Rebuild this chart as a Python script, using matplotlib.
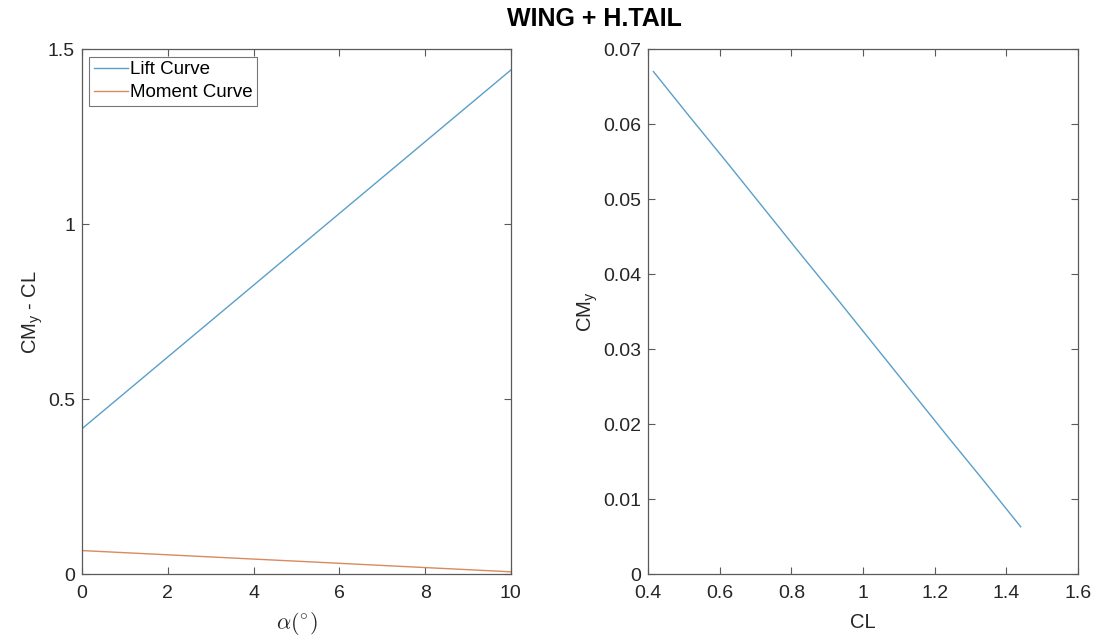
import matplotlib
matplotlib.use("Agg")
import matplotlib.pyplot as plt

plt.rcParams['font.family'] = ['Liberation Sans', 'DejaVu Sans']
plt.rcParams['mathtext.fontset'] = 'custom'
plt.rcParams['mathtext.rm'] = 'Liberation Sans'
plt.rcParams['mathtext.it'] = 'Liberation Sans:italic'

# Data
alpha = [0, 1, 2, 3, 4, 5, 6, 7, 8, 9, 10]
CL = [0.415, 0.5175, 0.62, 0.7225, 0.825, 0.9275, 1.03, 1.1325, 1.235, 1.3375, 1.44]
CMy = [0.067, 0.0609, 0.0549, 0.0488, 0.0427, 0.0367, 0.0306, 0.0245, 0.0184, 0.0124, 0.0063]

left_yticks = [0, 0.5, 1, 1.5]
left_xticks = [0, 2, 4, 6, 8, 10]
right_yticks = [0, 0.01, 0.02, 0.03, 0.04, 0.05, 0.06, 0.07]
right_xticks = [0.4, 0.6, 0.8, 1.0, 1.2, 1.4, 1.6]

c_lift = '#5a9fc8'
c_mom = '#d98a5e'
spine_c = '#5a5a5a'
text_c = '#262626'

fig = plt.figure(figsize=(10.97, 6.39), dpi=100)
ax1 = fig.add_axes([0.0747, 0.1017, 0.391, 0.8216])
ax2 = fig.add_axes([0.5907, 0.1017, 0.392, 0.8216])

ax1.plot(alpha, CL, color=c_lift, lw=1.0, label='Lift Curve')
ax1.plot(alpha, CMy, color=c_mom, lw=1.0, label='Moment Curve')
ax1.set_xlim(0, 10)
ax1.set_ylim(0, 1.5)
ax1.set_xticks(left_xticks)
ax1.set_xticklabels([str(v) for v in left_xticks])
ax1.set_yticks(left_yticks)
ax1.set_yticklabels(['0', '0.5', '1', '1.5'])
ax1.set_xlabel(r'$\alpha(^{\circ})$', fontsize=16, color=text_c, math_fontfamily='cm',
               labelpad=6)
ax1.set_ylabel(r'CM$_\mathregular{y}$ - CL', fontsize=14.5, color=text_c, labelpad=2)
leg = ax1.legend(loc='upper left', fontsize=13.5, frameon=True, fancybox=False,
                 handlelength=1.8, handletextpad=0.1, borderpad=0.25, labelspacing=0.3,
                 borderaxespad=0.4)
leg.get_frame().set_edgecolor('#555555')
leg.get_frame().set_linewidth(0.8)

ax2.plot(CL, CMy, color=c_lift, lw=1.0)
ax2.set_xlim(0.4, 1.6)
ax2.set_ylim(0, 0.07)
ax2.set_xticks(right_xticks)
ax2.set_xticklabels(['0.4', '0.6', '0.8', '1', '1.2', '1.4', '1.6'])
ax2.set_yticks(right_yticks)
ax2.set_yticklabels(['0', '0.01', '0.02', '0.03', '0.04', '0.05', '0.06', '0.07'])
ax2.set_xlabel('CL', fontsize=14.5, color=text_c, labelpad=8)
ax2.set_ylabel(r'CM$_\mathregular{y}$', fontsize=14.5, color=text_c, labelpad=2)

for ax in (ax1, ax2):
    for s in ax.spines.values():
        s.set_color(spine_c)
        s.set_linewidth(0.9)
    ax.tick_params(direction='in', top=True, right=True, length=5, width=0.8,
                   color=spine_c, labelsize=14, labelcolor=text_c, pad=5)
    ax.tick_params(axis='x', pad=8)

fig.text(0.542, 0.970, 'WING + H.TAIL', ha='center', va='center', fontsize=18,
         fontweight='bold', color='black')

fig.savefig('out.png', dpi=100)
